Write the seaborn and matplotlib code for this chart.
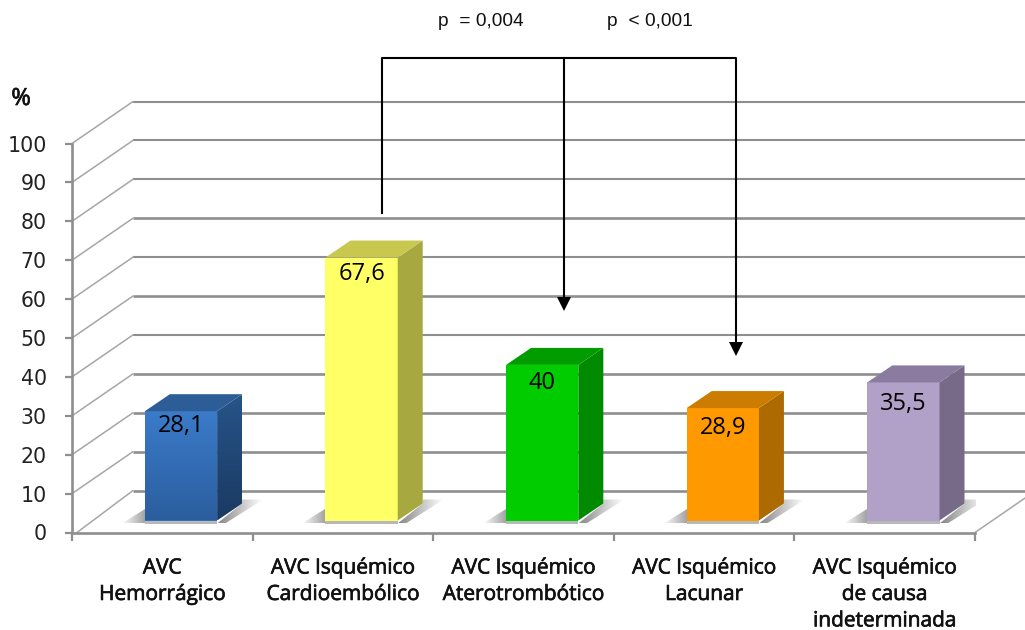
import numpy as np
import pandas as pd
import seaborn as sns
import matplotlib
matplotlib.use("Agg")
import matplotlib.pyplot as plt
import matplotlib.patheffects as pe
from matplotlib.colors import to_rgb
from matplotlib.image import AxesImage
from matplotlib.patches import Polygon
from matplotlib.transforms import IdentityTransform, ScaledTranslation

categories = ["AVC\nHemorrágico", "AVC Isquémico\nCardioembólico", "AVC Isquémico\nAterotrombótico",
              "AVC Isquémico\nLacunar", "AVC Isquémico\nde causa\nindeterminada"]
values = [28.1, 67.6, 40, 28.9, 35.5]
y_ticks = list(range(0, 101, 10))
front_colors = ["#3670b8", "#ffff66", "#00cc00", "#ff9900", "#b1a0c7"]
side_colors = ["#24507f", "#a8a840", "#008a00", "#ad6a00", "#776a88"]
top_colors = ["#2c5d96", "#c8c84e", "#009c00", "#cc7c00", "#8b7ba0"]
label_drops = [15, 16, 18, 20, 22]
comparisons = ["p  = 0,004", "p  < 0,001"]

W, H, DPI = 1025, 630, 100
GRID = "#8e8e8e"
sns.set_theme(style="white")
plt.rcParams["font.family"] = ["Open Sans", "DejaVu Sans"]

fig = plt.figure(figsize=(W / DPI, H / DPI), dpi=DPI, facecolor="white")
ax = fig.add_axes([72 / W, (H - 532.5) / H, 903 / W, 389 / H])
px = IdentityTransform()
firm = [pe.withStroke(linewidth=0.5, foreground="#111111")]


def to_screen(x, y):
    return (x, H - y)


def offset(dx, dy):
    return ScaledTranslation(dx / DPI, dy / DPI, fig.dpi_scale_trans)


def poly(verts, color, z, **kw):
    ax.add_patch(Polygon(verts, closed=True, facecolor=color, edgecolor="none",
                         transform=px, clip_on=False, zorder=z, **kw))


def shaded(verts, start, stop, z, horizontal=True):
    """Fill a screen-space polygon with a linear RGBA ramp (left to right, or top to bottom)."""
    verts = np.asarray(verts)
    ramp = np.linspace(0, 1, 64)
    channels = [np.interp(ramp, [0, 1], [a, b]) for a, b in zip(start, stop)]
    img = np.stack(channels, axis=-1)[None, :, :]
    if not horizontal:
        img = img.transpose(1, 0, 2)
    x0, x1 = verts[:, 0].min(), verts[:, 0].max()
    y0, y1 = verts[:, 1].min(), verts[:, 1].max()
    im = AxesImage(ax, interpolation="bilinear", origin="upper", zorder=z)
    im.set_data(img)
    im.set_transform(px)
    im.set_extent((x0, x1, y0, y1))
    ax.add_image(im)
    im.set_clip_path(Polygon(verts, closed=True, transform=px))


frame = pd.DataFrame({"group": categories, "share": values})
sns.barplot(data=frame, x="group", y="share", hue="group", palette=front_colors,
            saturation=1, width=0.4, legend=False, ax=ax, zorder=4, linewidth=0)

ax.set_xlim(-0.5, 4.5)
ax.set_ylim(0, 100)
ax.set_xlabel("")
ax.set_ylabel("")
ax.patch.set_alpha(0)

# Spines and ticks of the front plane
for side in ("top", "right"):
    ax.spines[side].set_visible(False)
for side in ("left", "bottom"):
    ax.spines[side].set_color(GRID)
    ax.spines[side].set_linewidth(1.9)
ax.set_yticks(y_ticks)
ax.tick_params(axis="y", length=5, width=1.6, color=GRID, pad=13, labelsize=14.8,
               labelcolor="#222222", left=True)
for t in ax.get_yticklabels():
    t.set_family("DejaVu Sans")
ax.set_xticks(np.arange(len(categories)))
ax.set_xticklabels(categories, fontsize=15, color="#111111", linespacing=1.34, path_effects=firm)
ax.set_xticks(np.arange(-0.5, len(categories)), minor=True)
ax.tick_params(axis="x", which="major", length=0, pad=18, bottom=True)
ax.tick_params(axis="x", which="minor", length=6, width=1.6, color=GRID, bottom=True)

# Back wall grid and its receding connectors
DEPTH_X, DEPTH_Y = 61, 42
to_px = ax.transData.transform
for v in y_ticks:
    fx, fy = to_px((-0.5, v))
    ex, _ = to_px((4.5, v))
    wy = fy + DEPTH_Y
    heavy = v in (70, 50, 30, 20, 10, 0)
    ax.plot([fx + DEPTH_X, ex + DEPTH_X], [wy, wy], color=GRID, lw=1.9 if heavy else 1.5, transform=px,
            clip_on=False, zorder=1, solid_capstyle="butt")
    ax.plot([fx + (5 if v == 0 else 0), fx + DEPTH_X], [fy, wy], color="#a6a6a6", lw=1.1, transform=px,
            clip_on=False, zorder=1)
fx, fy = to_px((4.5, 0))
ax.plot([fx, fx + DEPTH_X], [fy, fy + DEPTH_Y], color="#a6a6a6", lw=1.1, transform=px, clip_on=False, zorder=1)

# Bars sit part way into the floor and get a side, a top and a ground shadow
BAR_SHIFT = offset(18.7, 12)
SIDE_X, SIDE_Y = 25, 17
for i, (bar, val) in enumerate(zip(ax.patches, values)):
    bar.set_transform(ax.transData + BAR_SHIFT)
    bar.set_clip_on(False)
    (lx, by) = (ax.transData + BAR_SHIFT).transform((bar.get_x(), 0))
    (rx, ty) = (ax.transData + BAR_SHIFT).transform((bar.get_x() + bar.get_width(), bar.get_height()))

    side = [(rx, by), (rx + SIDE_X, by + SIDE_Y), (rx + SIDE_X, ty + SIDE_Y), (rx, ty)]
    top = [(lx, ty), (rx, ty), (rx + SIDE_X, ty + SIDE_Y), (lx + SIDE_X, ty + SIDE_Y)]
    if i == 0:
        shaded(side, (*to_rgb("#275488"), 1), (*to_rgb("#1a3a62"), 1), 4.1, horizontal=False)
        shaded([(lx, by), (rx, by), (rx, ty), (lx, ty)],
               (*to_rgb("#3b7bca"), 1), (*to_rgb("#2b5e9e"), 1), 4.1, horizontal=False)
    else:
        poly(side, side_colors[i], 4.1)
    poly(top, top_colors[i], 4.1)

    # Ground shadow: left wedge, right wedge, thin strip under the front face
    grey = to_rgb("#666666")
    shaded([(lx - 24, by - 3), (lx, by - 3), (lx, by + 12)], (*grey, 0), (*grey, 0.6), 2)
    shaded([(rx, by - 3), (rx + SIDE_X, by + SIDE_Y), (rx + SIDE_X, by + SIDE_Y + 4),
            (rx + SIDE_X + 21, by + SIDE_Y + 4), (rx + 8, by - 3)],
           (*grey, 0.8), (*grey, 0), 2)
    poly([(lx, by), (rx, by), (rx, by - 3), (lx, by - 3)], "#b8b8b8", 3)

    text = f"{val:g}".replace(".", ",")
    ax.text((lx + rx) / 2, ty - label_drops[i], text, transform=px, ha="center", va="center",
            fontsize=17, color="black", zorder=6)

# Significance bracket with two arrows
LINK = dict(color="black", lw=1.5, transform=px, clip_on=False, zorder=7, solid_capstyle="projecting")
ax.plot(*zip(to_screen(381.5, 213), to_screen(381.5, 58), to_screen(736, 58), to_screen(736, 343)), **LINK)
ax.plot(*zip(to_screen(564, 58), to_screen(564, 297)), **LINK)
for ax_x, tip in ((564, 311), (736, 356)):
    poly([to_screen(ax_x - 7, tip - 14), to_screen(ax_x + 7, tip - 14), to_screen(ax_x, tip)], "black", 7)

for label, cx in zip(comparisons, (481, 650)):
    fig.text(cx / W, 1 - 21 / H, label, ha="center", va="center", fontsize=13.8, color="#111111",
             family="Liberation Sans")
fig.text(21 / W, 1 - 99 / H, "%", ha="center", va="center", fontsize=17, color="#111111",
         path_effects=firm)

fig.savefig("out.png", dpi=DPI, facecolor="white")
